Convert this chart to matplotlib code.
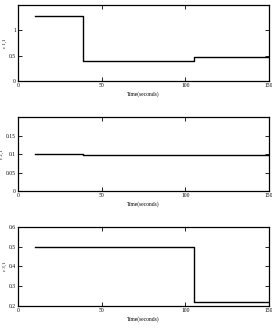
import matplotlib
matplotlib.use('Agg')
import matplotlib.pyplot as plt
from matplotlib.ticker import FormatStrFormatter

# step times (seconds) and values for the three panels
t = [10, 39, 105, 150]
e11 = [1.28, 0.40, 0.48, 0.48]
e21 = [0.100, 0.099, 0.099, 0.099]
e31 = [0.50, 0.498, 0.22, 0.22]

xticks = [0, 50, 100, 150]
yticks1 = [0, 0.5, 1.0]
yticks2 = [0, 0.05, 0.1, 0.15]
yticks3 = [0.2, 0.3, 0.4, 0.5, 0.6]

plt.rcParams['font.family'] = ['Liberation Serif', 'DejaVu Serif']

fig = plt.figure(figsize=(2.72, 3.29), dpi=100)
boxes = [[0.066, 0.754, 0.923, 0.231],
         [0.066, 0.419, 0.923, 0.225],
         [0.066, 0.070, 0.923, 0.240]]
series = [e11, e21, e31]
yts = [yticks1, yticks2, yticks3]
ylims = [(0, 1.5), (0, 0.2), (0.2, 0.6)]
ylabels = ['\u03b5 1,1', '\u03b5 2,1', '\u03b5 3,1']

for box, y, yt, yl, lab in zip(boxes, series, yts, ylims, ylabels):
    ax = fig.add_axes(box)
    ax.step(t, y, where='post', color='black', lw=1.0)
    ax.set_xlim(0, 150)
    ax.set_ylim(*yl)
    ax.set_xticks(xticks)
    ax.set_yticks(yt)
    ax.yaxis.set_major_formatter(FormatStrFormatter('%g'))
    ax.tick_params(direction='in', top=True, right=True, labelsize=4,
                   length=3, width=0.6, pad=1.5)
    for s in ax.spines.values():
        s.set_linewidth(0.9)
    ax.set_xlabel('Time(seconds)', fontsize=4, labelpad=2)
    ax.set_ylabel(lab, fontsize=3.5, labelpad=1)

fig.savefig('out.png', dpi=100)
